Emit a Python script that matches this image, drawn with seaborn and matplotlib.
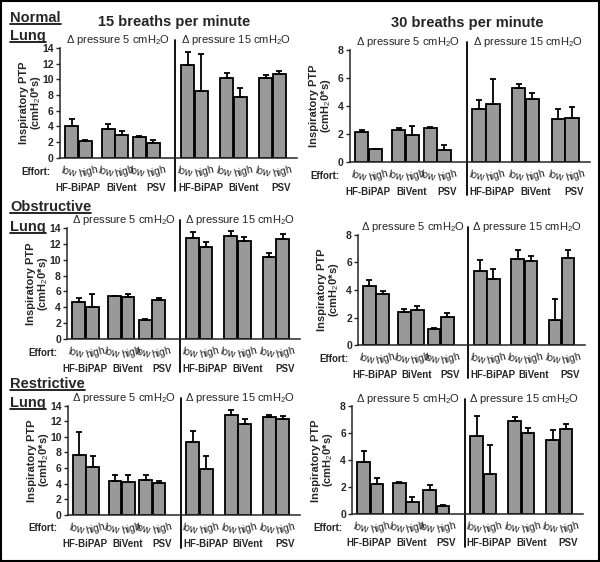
import matplotlib
matplotlib.use("Agg")
import matplotlib.pyplot as plt
from matplotlib.patches import Rectangle
from matplotlib.lines import Line2D
import matplotlib.transforms as mtransforms
import seaborn as sns
import pandas as pd
import numpy as np

modes = ["HF-BiPAP", "BiVent", "PSV"]
efforts = ["low", "high"]
pressures = [5, 15]

# bar order: 5 cmH2O (HF low, HF high, BiVent low, BiVent high, PSV low, PSV high), then 15 cmH2O
normal_15 = [4.0, 2.1, 3.7, 2.85, 2.7, 1.9, 11.75, 8.45, 10.2, 7.8, 10.2, 10.65]
normal_15_err = [0.9, 0.2, 0.6, 0.55, 0.1, 0.4, 1.65, 4.75, 0.6, 1.1, 0.4, 0.45]
normal_30 = [2.12, 0.93, 2.29, 1.93, 2.39, 0.84, 3.77, 4.13, 5.25, 4.49, 3.1, 3.17]
normal_30_err = [0.15, 0.0, 0.1, 0.62, 0.11, 0.33, 0.63, 1.77, 0.33, 0.41, 0.7, 0.73]
obstr_15 = [4.72, 4.0, 5.36, 5.27, 2.4, 4.93, 12.8, 11.56, 12.95, 12.44, 10.3, 12.65]
obstr_15_err = [0.48, 1.7, 0.04, 0.43, 0.17, 0.22, 0.7, 0.74, 0.65, 0.46, 0.54, 0.59]
obstr_30 = [4.29, 3.71, 2.42, 2.55, 1.16, 2.06, 5.38, 4.82, 6.25, 6.08, 1.8, 6.3]
obstr_30_err = [0.44, 0.22, 0.2, 0.31, 0.1, 0.29, 0.78, 0.68, 0.63, 0.37, 1.52, 0.6]
restr_15 = [7.7, 6.2, 4.37, 4.15, 4.5, 4.07, 9.29, 5.82, 12.84, 11.6, 12.54, 12.29]
restr_15_err = [2.87, 1.3, 0.73, 0.95, 0.6, 0.21, 1.41, 1.71, 0.66, 0.69, 0.3, 0.34]
restr_30 = [3.9, 2.27, 2.35, 0.94, 1.8, 0.62, 5.78, 3.01, 6.91, 6.05, 5.5, 6.35]
restr_30_err = [0.79, 0.4, 0.05, 0.37, 0.37, 0.1, 1.48, 2.13, 0.28, 0.37, 0.77, 0.37]

# layout of the bars and labels on the x axis
group_x = {5: [0.9, 3.7, 6.1], 15: [9.8, 12.8, 15.8]}
label_x = {5: [1.35, 4.7, 7.4], 15: [10.8, 14.1, 17.0]}
pair_dx = {"low": 0.0, "high": 1.05}
divider_x = 8.85
xmax = 18.2

sns.set_style("white")
plt.rcParams["font.family"] = ["Liberation Sans", "DejaVu Sans"]
plt.rcParams["mathtext.fontset"] = "custom"
plt.rcParams["mathtext.rm"] = "Liberation Sans"
plt.rcParams["mathtext.bf"] = "Liberation Sans:bold"

bar_color = "#999999"

fig = plt.figure(figsize=(6, 5.62), dpi=100)


def panel(rect, vals, errs, ymax):
    ax = fig.add_axes(rect)
    df = pd.DataFrame({
        "pressure": np.repeat(pressures, 6),
        "mode": np.tile(np.repeat(modes, 2), 2),
        "effort": efforts * 6,
        "ptp": vals,
        "err": errs,
    })
    df["pos"] = [group_x[p][modes.index(m)] + pair_dx[e]
                 for p, m, e in zip(df["pressure"], df["mode"], df["effort"])]
    sns.barplot(data=df, x="pos", y="ptp", native_scale=True, width=0.96,
                color=bar_color, saturation=1, edgecolor="black", linewidth=1.3,
                errorbar=None, ax=ax)
    ax.errorbar(df["pos"], df["ptp"], yerr=[np.zeros(len(df)), df["err"]],
                fmt="none", ecolor="black", elinewidth=1.3, capsize=2.2, capthick=1.3)

    ax.set_xlim(0, xmax)
    ax.set_ylim(0, ymax)
    ax.set_yticks(np.arange(0, ymax + 1, 2))
    ax.tick_params(axis="y", length=3, width=1, labelsize=7.5, pad=1.5, left=True)
    for t in ax.get_yticklabels():
        t.set_fontweight("bold")
    sns.despine(ax=ax)
    for s in ["left", "bottom"]:
        ax.spines[s].set_linewidth(1.1)

    ax.set_xticks(df["pos"])
    ax.set_xticklabels(df["effort"], fontsize=7.5)
    ax.tick_params(axis="x", length=0, pad=10)
    for t, e in zip(ax.get_xticklabels(), df["effort"]):
        shift = -3 if e == "low" else 3
        t.set_rotation(-15 if e == "low" else 15)
        t.set_rotation_mode("anchor")
        t.set_ha("center")
        t.set_va("center")
        t.set_transform(t.get_transform() +
                        mtransforms.ScaledTranslation(shift / 100, 0, fig.dpi_scale_trans))
    ax.set_xlabel("")
    ax.set_ylabel("Inspiratory PTP\n(cmH$_2$0*s)", fontsize=8, fontweight="bold",
                  linespacing=1.0)
    ax.yaxis.set_label_coords(-17 / (rect[2] * 600), 0.5)

    ax.text(-10 / (rect[2] * 600), -0.125, "Effort:", transform=ax.transAxes, ha="right",
            va="center", fontsize=7, fontweight="bold")
    trans = mtransforms.blended_transform_factory(ax.transData, ax.transAxes)
    for p in pressures:
        for m, x in zip(modes, label_x[p]):
            ax.text(x, -0.27, m, transform=trans, ha="center", va="center",
                    fontsize=7, fontweight="bold")
    ax.axvline(divider_x, ymin=-0.3, ymax=1.07, color="black", lw=1.3, clip_on=False)
    for p, xc in zip(pressures, [divider_x / 2, (divider_x + xmax) / 2]):
        ax.text(xc, 1.07, r"$\Delta$ pressure %d cmH$_2$O" % p, transform=trans,
                ha="center", va="center", fontsize=8)
    return ax


panel([0.100, 0.719, 0.395, 0.196], normal_15, normal_15_err, 14)
panel([0.583, 0.712, 0.400, 0.199], normal_30, normal_30_err, 8)
panel([0.112, 0.397, 0.388, 0.197], obstr_15, obstr_15_err, 14)
panel([0.597, 0.386, 0.378, 0.196], obstr_30, obstr_30_err, 8)
panel([0.113, 0.084, 0.387, 0.194], restr_15, restr_15_err, 14)
panel([0.587, 0.085, 0.385, 0.192], restr_30, restr_30_err, 8)

fig.text(0.29, 0.961, "15 breaths per minute", ha="center", va="center",
         fontsize=10.5, fontweight="bold")
fig.text(0.778, 0.959, "30 breaths per minute", ha="center", va="center",
         fontsize=10.5, fontweight="bold")

row_labels = [("Normal", 0.968), ("Lung", 0.936), ("Obstructive", 0.632), ("Lung", 0.596),
              ("Restrictive", 0.317), ("Lung", 0.283)]
texts = [fig.text(0.017, y, s, ha="left", va="center", fontsize=10.5, fontweight="bold")
         for s, y in row_labels]

fig.canvas.draw()
inv = fig.transFigure.inverted()
for t in texts:
    bb = t.get_window_extent()
    (x0, y0), (x1, _) = inv.transform([(bb.x0, bb.y0 + 1), (bb.x1, bb.y0)])
    fig.add_artist(Line2D([x0, x1], [y0, y0], color="black", lw=1.2))

fig.patches.append(Rectangle((0.002, 0.002), 0.996, 0.996, transform=fig.transFigure,
                             fill=False, edgecolor="black", lw=1.5))

fig.savefig("out.png", dpi=100)
